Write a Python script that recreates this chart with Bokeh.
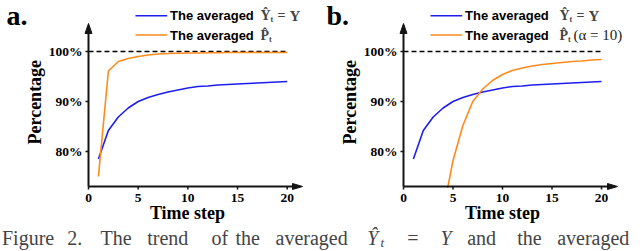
import math
from bokeh.plotting import figure
from bokeh.models import Range1d, Arrow, Label
from bokeh.layouts import row, column
from bokeh.embed import file_html
from bokeh.resources import INLINE

# ---------------- data ----------------
steps = list(range(1, 21))
avg_y_eq = [78.5, 84.2, 86.9, 88.7, 90.0, 90.8, 91.4, 91.9, 92.3, 92.7,
            93.0, 93.1, 93.3, 93.4, 93.5, 93.6, 93.7, 93.8, 93.9, 94.0]
avg_p_a = [75.0, 96.1, 98.0, 98.6, 99.0, 99.3, 99.5, 99.6, 99.65, 99.7,
           99.7, 99.75, 99.75, 99.8, 99.8, 99.8, 99.8, 99.8, 99.8, 99.8]
steps_b = list(range(4, 21))
avg_p_b = [68.0, 78.2, 85.2, 90.0, 92.5, 94.2, 95.4, 96.2, 96.7, 97.1,
           97.4, 97.6, 97.8, 98.0, 98.1, 98.3, 98.4]
ref_x = [0, 20]
ref_y = [100, 100]
x_ticks = [0, 5, 10, 15, 20]
x_tick_labels = ["0", "5", "10", "15", "20"]
y_ticks = [80, 90, 100]
y_tick_labels = ["80%", "90%", "100%"]
legend_text = "The averaged"
x_label = "Time step"
y_label = "Percentage"
caption_words = ["Figure", "2.", "The", "trend", "of", "the", "averaged"]
caption_words2 = ["and", "the", "averaged"]

BLUE = "#1e1ef0"
ORANGE = "#ff8a1c"
AXIS_COLOR = "#141414"
SERIF = "Liberation Serif"
SANS = "Liberation Sans"

X_AXIS_AT = 73.0
PANEL_H = 224
BASE_SHIFT = 0.31  # rendered baseline sits this many em below the anchor


def base(py, fs):
    return py - BASE_SHIFT * fs


def make_panel(fig_left, fig_w, axis_px, scale, letter, leg_x0, math_x,
               p_series_x, p_series_y, alpha_note):
    X = lambda px: (px - axis_px) / scale
    Y = lambda py: 100 + (51 - py) / 5.0
    PY = lambda v: 51 + (100 - v) * 5.0
    p = figure(width=fig_w, height=PANEL_H, min_border=0,
               x_range=Range1d(X(fig_left), X(fig_left + fig_w)),
               y_range=Range1d(Y(PANEL_H), Y(0)),
               x_axis_location=None, y_axis_location=None,
               output_backend="svg", toolbar_location=None)
    p.grid.visible = False
    p.outline_line_color = None
    p.background_fill_color = "white"
    p.border_fill_color = "white"

    # data
    p.line(ref_x, ref_y, line_color="black", line_width=1.5, line_dash="5 3")
    p.line(steps, avg_y_eq, line_color=BLUE, line_width=1.6)
    p.line(p_series_x, p_series_y, line_color=ORANGE, line_width=1.6)

    # the plot area ends at the x axis: hide anything drawn below it
    p.quad(left=X(fig_left), right=X(fig_left + fig_w), bottom=Y(PANEL_H), top=Y(187.5),
           fill_color="white", line_color=None)

    # axis lines with arrow heads
    y_tip, x_tip = Y(23), X(axis_px + 214)
    p.line([0, 0], [X_AXIS_AT, Y(30)], line_color=AXIS_COLOR, line_width=2)
    p.line([0, X(axis_px + 205)], [X_AXIS_AT, X_AXIS_AT], line_color=AXIS_COLOR, line_width=2)
    p.patch([X(axis_px - 3.5), 0, X(axis_px + 3.5)], [Y(33), y_tip, Y(33)],
            fill_color=AXIS_COLOR, line_color=AXIS_COLOR, line_width=1)
    p.patch([X(axis_px + 204), x_tip, X(axis_px + 204)], [Y(183), X_AXIS_AT, Y(189)],
            fill_color=AXIS_COLOR, line_color=AXIS_COLOR, line_width=1)

    # tick marks
    p.segment(x0=x_ticks, y0=[X_AXIS_AT] * len(x_ticks), x1=x_ticks,
              y1=[Y(189)] * len(x_ticks), line_color=AXIS_COLOR, line_width=1.5)
    p.segment(x0=[X(axis_px - 3)] * len(y_ticks), y0=y_ticks, x1=[0] * len(y_ticks),
              y1=y_ticks, line_color=AXIS_COLOR, line_width=1.5)

    # tick labels
    for t, lab in zip(x_ticks, x_tick_labels):
        p.add_layout(Label(x=t, y=Y(base(202, 13.5)), text=lab, text_font=SERIF,
                           text_font_style="bold", text_font_size="13.5px", text_color="black",
                           text_align="center", text_baseline="alphabetic"))
    for v, lab in zip(y_ticks, y_tick_labels):
        p.add_layout(Label(x=X(axis_px - 6), y=Y(base(PY(v) + 4.6, 13.5)), text=lab,
                           text_font=SERIF, text_font_style="bold", text_font_size="13.5px",
                           text_color="black", text_align="right", text_baseline="alphabetic"))

    # axis titles
    p.add_layout(Label(x=X(axis_px + 99), y=Y(base(218, 18)), text=x_label, text_font=SERIF,
                       text_font_style="bold", text_font_size="18px", text_color="black",
                       text_align="center", text_baseline="alphabetic"))
    p.add_layout(Label(x=X(axis_px - 53.5), y=Y(101.7), text=y_label, text_font=SERIF,
                       text_font_style="bold", text_font_size="18px", text_color="black",
                       text_align="center", text_baseline="alphabetic", angle=math.pi / 2))

    # panel letter
    p.add_layout(Label(x=X(fig_left + 6), y=Y(base(23.5, 28)), text=letter,
                       text_font=SERIF, text_font_style="bold", text_font_size="28px",
                       text_color="black", text_baseline="alphabetic"))

    # legend
    rows = [(15.3, 19.3, BLUE), (34.5, 39.3, ORANGE)]
    for ly, bl, col in rows:
        p.add_layout(Arrow(start=None, end=None, x_start=X(leg_x0), y_start=Y(ly),
                           x_end=X(leg_x0 + 31.7), y_end=Y(ly), line_color=col, line_width=1.6))
        p.add_layout(Label(x=X(leg_x0 + 34.5), y=Y(base(bl, 13)), text=legend_text,
                           text_font=SANS, text_font_style="bold", text_font_size="13px",
                           text_color="black", text_baseline="alphabetic"))
    mx = math_x
    p.add_layout(Label(x=X(mx), y=Y(base(19.8, 14)), text="\u0176", text_font=SERIF,
                       text_font_style="bold", text_font_size="14px", text_baseline="alphabetic"))
    p.add_layout(Label(x=X(mx + 10), y=Y(base(21.5, 8)), text="t", text_font=SERIF,
                       text_font_style="bold", text_font_size="8px", text_baseline="alphabetic"))
    p.add_layout(Label(x=X(mx + 17), y=Y(base(19.8, 14)), text="=", text_font=SERIF,
                       text_font_style="bold", text_font_size="14px", text_baseline="alphabetic"))
    p.add_layout(Label(x=X(mx + 29), y=Y(base(19.8, 15)), text="Y", text_font=SERIF,
                       text_font_style="bold", text_font_size="15px", text_baseline="alphabetic"))
    p.add_layout(Label(x=X(mx), y=Y(base(39.5, 14)), text="P\u0302", text_font=SERIF,
                       text_font_style="bold", text_font_size="14px", text_baseline="alphabetic"))
    p.add_layout(Label(x=X(mx + 8.5), y=Y(base(41.2, 8)), text="t", text_font=SERIF,
                       text_font_style="bold", text_font_size="8px", text_baseline="alphabetic"))
    if alpha_note:
        p.add_layout(Label(x=X(mx + 14), y=Y(base(39.5, 15)), text="(\u03b1 = 10)", text_font=SERIF,
                           text_font_size="15px", text_color="#222222",
                           text_baseline="alphabetic"))
    return p


pa = make_panel(0, 320, 88, 9.935, "a.", 135, 260, steps, avg_p_a, False)
pb = make_panel(320, 320, 403, 9.9, "b.", 430, 559, steps_b, avg_p_b, True)

# caption strip (page y 224..251); caption y = 251 - page y
CAP_H = 251 - PANEL_H
cap = figure(width=640, height=CAP_H, x_range=Range1d(0, 640), y_range=Range1d(0, CAP_H),
             x_axis_location=None, y_axis_location=None, min_border=0,
             output_backend="svg", toolbar_location=None)
cap.grid.visible = False
cap.outline_line_color = None
CY = 251 - base(244, 20)
cap_x1 = [1.5, 66.7, 100, 146.7, 211, 235, 275]
cap_x2 = [466.7, 516.7, 556.7]
for w, px in zip(caption_words, cap_x1):
    cap.add_layout(Label(x=px, y=CY, text=w, text_font=SERIF, text_font_size="20px",
                         text_baseline="alphabetic"))
cap.add_layout(Label(x=366.7, y=CY, text="\u0176", text_font=SERIF, text_font_style="italic",
                     text_font_size="20px", text_baseline="alphabetic"))
cap.add_layout(Label(x=380, y=251 - base(246.5, 13), text="t", text_font=SERIF, text_font_style="italic",
                     text_font_size="13px", text_baseline="alphabetic"))
cap.add_layout(Label(x=406.7, y=CY, text="=", text_font=SERIF,
                     text_font_size="20px", text_baseline="alphabetic"))
cap.add_layout(Label(x=440, y=CY, text="Y", text_font=SERIF, text_font_style="italic",
                     text_font_size="20px", text_baseline="alphabetic"))
for w, px in zip(caption_words2, cap_x2):
    cap.add_layout(Label(x=px, y=CY, text=w, text_font=SERIF, text_font_size="20px",
                         text_baseline="alphabetic"))

layout = column(row(pa, pb), cap)
open("out.html", "w").write(file_html(layout, INLINE))
